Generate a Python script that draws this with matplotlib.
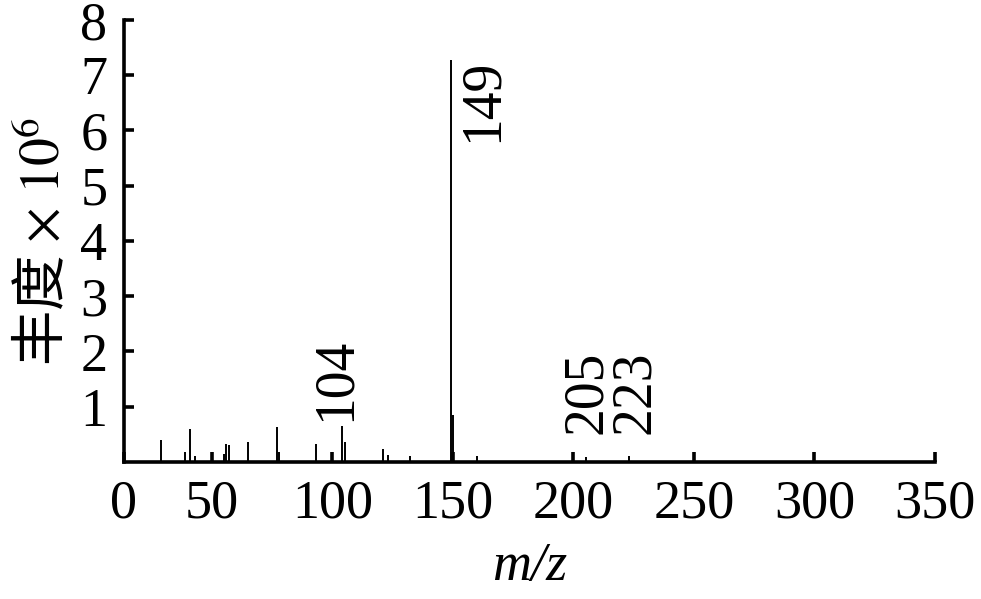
import matplotlib
matplotlib.use("Agg")
import matplotlib.pyplot as plt

plt.rcParams["font.family"] = ["Liberation Serif", "DejaVu Serif"]
plt.rcParams["mathtext.fontset"] = "stix"

# mass spectrum peaks (m/z, abundance x 1e6)
mz = [29, 39, 41, 43, 55, 56, 57, 65, 77, 78, 93, 104, 105,
      121, 123, 132, 149, 150, 160, 205, 223]
abundance = [0.39, 0.19, 0.60, 0.10, 0.15, 0.33, 0.30, 0.36, 0.63, 0.19, 0.33, 0.66, 0.36,
             0.24, 0.12, 0.11, 7.28, 0.85, 0.10, 0.09, 0.10]

# labelled peaks and where their labels sit
label_text = ["149", "104", "205", "223"]
label_x = [162.5, 101.5, 205.5, 225.5]
label_y = [5.8, 0.75, 0.5, 0.5]

x_ticks = [13.5, 50, 100, 150, 200, 250, 300, 350]
x_tick_labels = ["0", "50", "100", "150", "200", "250", "300", "350"]
y_ticks = [1, 2, 3, 4, 5, 6, 7, 8]

black = "#000000"

fig = plt.figure(figsize=(9.81, 5.99), dpi=100)
ax = fig.add_axes([0.1264, 0.2287, 0.8267, 0.7380])

ax.vlines(mz, 0, abundance, color=black, linewidth=1.4)

for text, x, y in zip(label_text, label_x, label_y):
    ax.text(x, y, text, rotation=90, ha="center", va="bottom", fontsize=40)

ax.set_xlim(13.5, 350)
ax.set_ylim(0, 8)
ax.set_xticks(x_ticks)
ax.set_xticklabels(x_tick_labels)
ax.set_yticks(y_ticks)

for side in ["top", "right"]:
    ax.spines[side].set_visible(False)
for side in ["left", "bottom"]:
    ax.spines[side].set_linewidth(2.6)

ax.tick_params(direction="in", length=7, width=2.6, labelsize=39, pad=12)

ax.set_xlabel("m/z", fontsize=39, fontstyle="italic", labelpad=9)
ax.set_ylabel("丰度 $\\times\\ 10^{6}$", fontsize=40,
              family=["Noto Sans CJK SC", "DejaVu Sans"], labelpad=6)

fig.savefig("out.png", dpi=100)
